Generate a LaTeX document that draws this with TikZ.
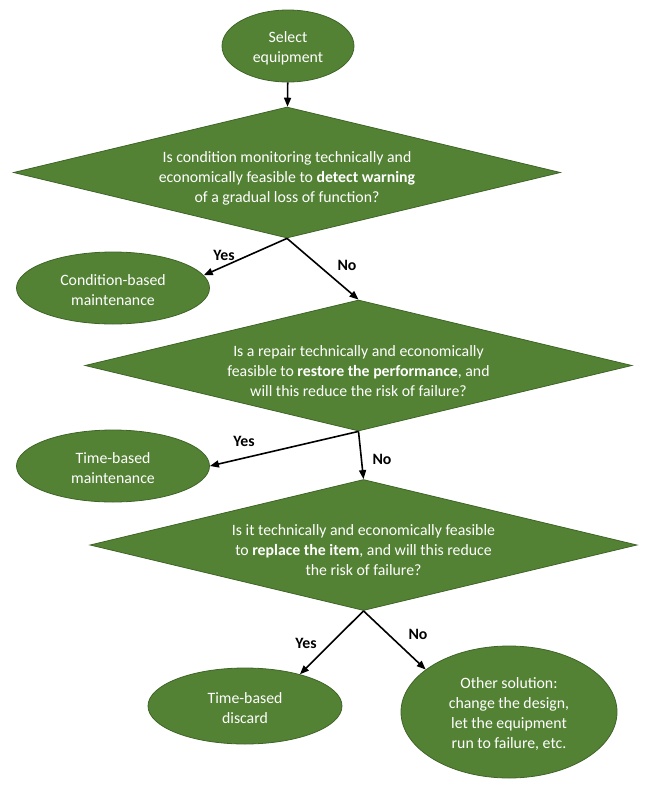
\documentclass[tikz,border=0pt]{standalone}
\usepackage{fontspec}
\setmainfont{Carlito}
\usetikzlibrary{shapes.geometric,arrows.meta}
\definecolor{leaf}{HTML}{548235}
\definecolor{leafline}{HTML}{3F6428}
\newcommand{\boxfont}{\fontsize{15.8}{20}\selectfont}
\newcommand{\lift}{\rule{0pt}{22pt}}
\newcommand{\liftell}{\rule{0pt}{16pt}}
\tikzset{
  endbox/.style={ellipse,fill=leaf,draw=leafline,line width=0.8pt,text=white,align=center,inner sep=0pt},
  askbox/.style={diamond,fill=leaf,draw=leafline,line width=0.8pt,text=white,align=center,
    shape aspect=4.2,minimum width=547pt,minimum height=131pt,inner sep=0pt},
  flow/.style={line width=1.6pt,-{Triangle[length=9pt,width=7pt]}},
  answer/.style={font=\boxfont\bfseries}
}
\begin{document}
\begin{tikzpicture}[x=1pt,y=-1pt,font=\boxfont]
\useasboundingbox (0,0) rectangle (654,788);
%start
\node[endbox,minimum width=132pt,minimum height=72pt](sel)at(288,46){\liftell Select\\equipment};
%questions
\node[askbox](ask1)at(287,172.5){\lift Is condition monitoring technically and\\economically feasible to \textbf{detect warning}\\of a gradual loss of function?};
\node[askbox](ask2)at(358.5,365.5){\lift Is a repair technically and economically\\feasible to \textbf{restore the performance}, and\\will this reduce the risk of failure?};
\node[askbox](ask3)at(363.5,545){\lift Is it technically and economically feasible\\to \textbf{replace the item}, and will this reduce\\the risk of failure?};
%outcomes
\node[endbox,minimum width=193pt,minimum height=72pt](cbm)at(113,288){\liftell Condition-based\\maintenance};
\node[endbox,minimum width=193pt,minimum height=72pt](tbm)at(113,466){\liftell Time-based\\maintenance};
\node[endbox,minimum width=194pt,minimum height=76pt](disc)at(245,706){\liftell Time-based\\discard};
\node[endbox,minimum width=216pt,minimum height=132pt](other)at(509,712){\liftell Other solution:\\change the design,\\let the equipment\\run to failure, etc.};
%arrows
\draw[flow](sel)--(ask1);
\draw[flow](ask1.south)--(cbm.8);
\draw[flow](ask1.south)--(ask2.north);
\draw[flow](ask2.south)--(tbm.east);
\draw[flow](ask2.south)--(ask3.north);
\draw[flow](ask3.south)--(disc.30);
\draw[flow](ask3.south)--(other.153);
%labels
\node[answer](y1)at(224,255){Yes};
\node[answer](n1)at(347,265){No};
\node[answer](y2)at(244,441){Yes};
\node[answer](n2)at(382,459){No};
\node[answer](y3)at(306,643){Yes};
\node[answer](n3)at(418,634){No};
\end{tikzpicture}
\end{document}
